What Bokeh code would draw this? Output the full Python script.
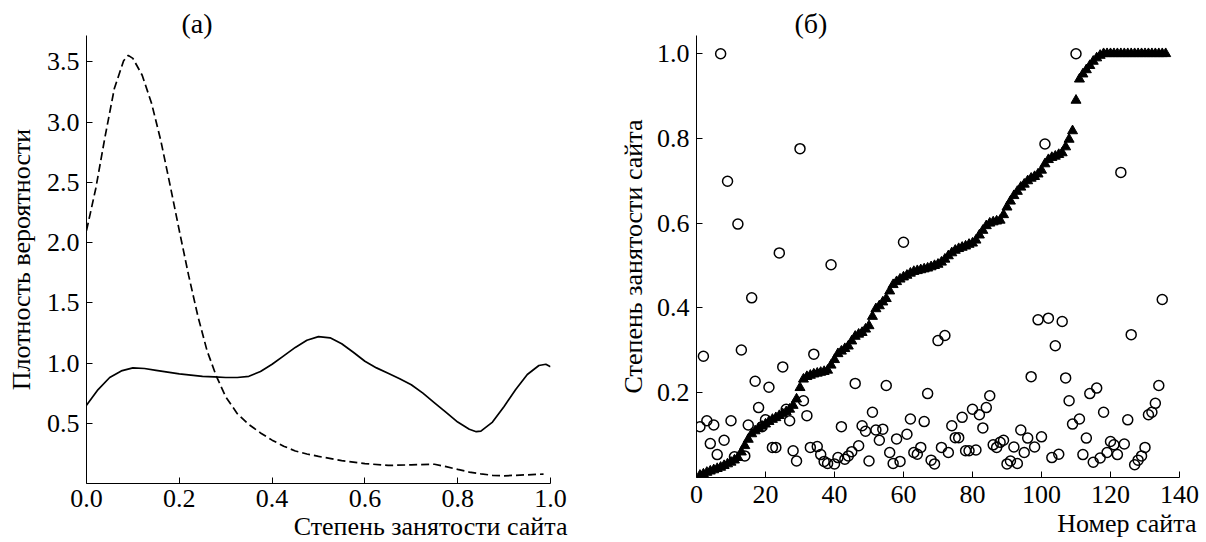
from bokeh.plotting import figure
from bokeh.layouts import row
from bokeh.models import FixedTicker, NumeralTickFormatter, Range1d, Title
from bokeh.embed import file_html
from bokeh.resources import INLINE

FONT = "Liberation Serif"

# ---- Panel (a): probability density curves ----
solid_x = [0.000, 0.025, 0.050, 0.075, 0.100, 0.125, 0.150, 0.175, 0.200, 0.225,
           0.250, 0.275, 0.300, 0.325, 0.350, 0.375, 0.400, 0.425, 0.450, 0.475,
           0.500, 0.525, 0.550, 0.575, 0.600, 0.625, 0.650, 0.675, 0.700, 0.725,
           0.750, 0.775, 0.800, 0.825, 0.840, 0.850, 0.875, 0.900, 0.925, 0.950,
           0.975, 0.990, 1.000]
solid_y = [0.65, 0.78, 0.88, 0.935, 0.96, 0.955, 0.94, 0.925, 0.91, 0.90,
           0.89, 0.885, 0.88, 0.88, 0.89, 0.93, 0.99, 1.06, 1.13, 1.19,
           1.22, 1.21, 1.16, 1.09, 1.015, 0.96, 0.915, 0.87, 0.82, 0.75,
           0.67, 0.59, 0.51, 0.45, 0.43, 0.435, 0.51, 0.64, 0.78, 0.905,
           0.98, 0.99, 0.97]

dash_x = [0.00, 0.02, 0.04, 0.06, 0.08, 0.09, 0.10, 0.12, 0.14, 0.16,
          0.18, 0.20, 0.22, 0.24, 0.26, 0.28, 0.30, 0.325, 0.35, 0.375,
          0.40, 0.425, 0.45, 0.475, 0.50, 0.55, 0.60, 0.65, 0.70, 0.75,
          0.775, 0.80, 0.825, 0.85, 0.875, 0.90, 0.95, 0.985]
dash_y = [2.10, 2.45, 2.88, 3.28, 3.51, 3.555, 3.53, 3.39, 3.16, 2.85,
          2.48, 2.10, 1.73, 1.39, 1.10, 0.89, 0.72, 0.58, 0.49, 0.42,
          0.36, 0.31, 0.27, 0.245, 0.225, 0.19, 0.165, 0.15, 0.155, 0.16,
          0.14, 0.117, 0.095, 0.08, 0.068, 0.064, 0.072, 0.078]

a_xticks = [0.0, 0.2, 0.4, 0.6, 0.8, 1.0]
a_yticks = [0.5, 1.0, 1.5, 2.0, 2.5, 3.0, 3.5]

# ---- Panel (б): site occupancy ----
tri_y = [0.005, 0.008, 0.012, 0.015, 0.018, 0.021, 0.024, 0.028, 0.032, 0.036,
         0.041, 0.047, 0.060, 0.075, 0.090, 0.103, 0.110, 0.116, 0.121, 0.126,
         0.132, 0.137, 0.141, 0.146, 0.150, 0.155, 0.161, 0.170, 0.185, 0.212,
         0.232, 0.238, 0.241, 0.244, 0.246, 0.248, 0.250, 0.253, 0.265, 0.278,
         0.292, 0.298, 0.304, 0.310, 0.322, 0.333, 0.338, 0.342, 0.350, 0.358,
         0.380, 0.398, 0.405, 0.414, 0.422, 0.440, 0.455, 0.462, 0.468, 0.473,
         0.477, 0.482, 0.486, 0.488, 0.490, 0.492, 0.494, 0.497, 0.500, 0.503,
         0.508, 0.515, 0.523, 0.530, 0.536, 0.540, 0.543, 0.546, 0.550, 0.553,
         0.560, 0.572, 0.583, 0.594, 0.600, 0.603, 0.605, 0.607, 0.620, 0.638,
         0.652, 0.665, 0.675, 0.685, 0.692, 0.700, 0.706, 0.710, 0.716, 0.725,
         0.740, 0.750, 0.755, 0.758, 0.762, 0.766, 0.780, 0.798, 0.818, 0.890,
         0.940, 0.952, 0.962, 0.972, 0.982, 0.990, 0.996, 1.0, 1.0, 1.0,
         1.0, 1.0, 1.0, 1.0, 1.0, 1.0, 1.0, 1.0, 1.0, 1.0,
         1.0, 1.0, 1.0, 1.0, 1.0, 1.0]
tri_x = list(range(1, len(tri_y) + 1))

circ_y = [0.120, 0.286, 0.134, 0.080, 0.124, 0.054, 1.000, 0.088, 0.699, 0.134,
          0.049, 0.598, 0.301, 0.051, 0.124, 0.424, 0.227, 0.165, 0.120, 0.136,
          0.213, 0.071, 0.071, 0.530, 0.261, 0.161, 0.134, 0.063, 0.039, 0.776,
          0.181, 0.146, 0.071, 0.291, 0.073, 0.054, 0.038, 0.033, 0.502, 0.032,
          0.047, 0.120, 0.043, 0.051, 0.061, 0.222, 0.075, 0.122, 0.109, 0.039,
          0.154, 0.112, 0.088, 0.114, 0.217, 0.059, 0.033, 0.091, 0.038, 0.555,
          0.102, 0.138, 0.059, 0.055, 0.071, 0.132, 0.198, 0.041, 0.032, 0.323,
          0.071, 0.335, 0.059, 0.122, 0.094, 0.094, 0.142, 0.063, 0.063, 0.161,
          0.065, 0.148, 0.117, 0.165, 0.193, 0.077, 0.071, 0.083, 0.088, 0.032,
          0.039, 0.072, 0.033, 0.112, 0.059, 0.093, 0.238, 0.072, 0.372, 0.096,
          0.787, 0.376, 0.047, 0.311, 0.055, 0.368, 0.235, 0.181, 0.126, 1.000,
          0.138, 0.054, 0.093, 0.198, 0.036, 0.211, 0.046, 0.154, 0.059, 0.085,
          0.077, 0.054, 0.720, 0.079, 0.136, 0.337, 0.030, 0.041, 0.051, 0.071,
          0.148, 0.154, 0.175, 0.217, 0.420]
circ_x = list(range(1, len(circ_y) + 1))

b_xticks = [0, 20, 40, 60, 80, 100, 120, 140]
b_yticks = [0.2, 0.4, 0.6, 0.8, 1.0]

TICK_SIZE = "26px"
LABEL_SIZE = "26px"


def style(p, ylabel, ylabel_standoff, xtick_standoff):
    p.grid.visible = False
    p.outline_line_color = None
    p.background_fill_color = "white"
    p.border_fill_color = "white"
    for ax in p.axis:
        ax.axis_line_color = "black"
        ax.axis_line_width = 1
        ax.major_tick_line_color = "black"
        ax.major_tick_in = 6
        ax.major_tick_out = 0
        ax.minor_tick_line_color = None
        ax.major_label_text_font = FONT
        ax.major_label_text_font_size = TICK_SIZE
        ax.major_label_text_color = "black"
    p.xaxis.major_label_standoff = xtick_standoff
    p.yaxis.major_label_standoff = 7
    p.yaxis.axis_label = ylabel
    p.yaxis.axis_label_text_font = FONT
    p.yaxis.axis_label_text_font_size = LABEL_SIZE
    p.yaxis.axis_label_text_font_style = "normal"
    p.yaxis.axis_label_text_color = "black"
    p.yaxis.axis_label_standoff = ylabel_standoff


def add_texts(p, panel_text, panel_offset, xlabel, xlabel_standoff):
    p.add_layout(Title(text=panel_text, align="left", offset=panel_offset, standoff=-6,
                       text_font=FONT, text_font_size="28px", text_font_style="normal",
                       text_color="black"), "above")
    p.add_layout(Title(text=xlabel, align="right", offset=-17, standoff=xlabel_standoff,
                       text_font=FONT, text_font_size=LABEL_SIZE, text_font_style="normal",
                       text_color="black"), "below")


# Panel (a)
p1 = figure(frame_width=464, frame_height=448, min_border_left=86, min_border_right=50,
            min_border_top=33, min_border_bottom=61,
            x_range=Range1d(0, 1.0), y_range=Range1d(0, 3.72),
            output_backend="svg", toolbar_location=None)
p1.line(solid_x, solid_y, line_color="black", line_width=1.7)
p1.line(dash_x, dash_y, line_color="black", line_width=1.7, line_dash="8 4")
p1.xaxis.ticker = FixedTicker(ticks=a_xticks)
p1.yaxis.ticker = FixedTicker(ticks=a_yticks)
p1.xaxis.formatter = NumeralTickFormatter(format="0.0")
p1.yaxis.formatter = NumeralTickFormatter(format="0.0")
style(p1, "Плотность вероятности", 8, 6)
add_texts(p1, "(a)", 95, "Степень занятости сайта", 0)

# Panel (б)
p2 = figure(frame_width=483, frame_height=442, min_border_left=96, min_border_right=27,
            min_border_top=35, min_border_bottom=65,
            x_range=Range1d(0, 140), y_range=Range1d(0, 1.043),
            output_backend="svg", toolbar_location=None)
p2.scatter(tri_x, tri_y, marker="triangle", size=10, fill_color="black", line_color="black",
           line_width=1)
p2.scatter(circ_x, circ_y, marker="circle", size=10, fill_color=None, line_color="black",
           line_width=1.5)
p2.xaxis.ticker = FixedTicker(ticks=b_xticks)
p2.yaxis.ticker = FixedTicker(ticks=b_yticks)
p2.xaxis.formatter = NumeralTickFormatter(format="0")
p2.yaxis.formatter = NumeralTickFormatter(format="0.0")
style(p2, "Степень занятости сайта", 6, 8)
add_texts(p2, "(б)", 98, "Номер сайта", 2)

layout = row(p1, p2)
open("out.html", "w").write(file_html(layout, INLINE))
